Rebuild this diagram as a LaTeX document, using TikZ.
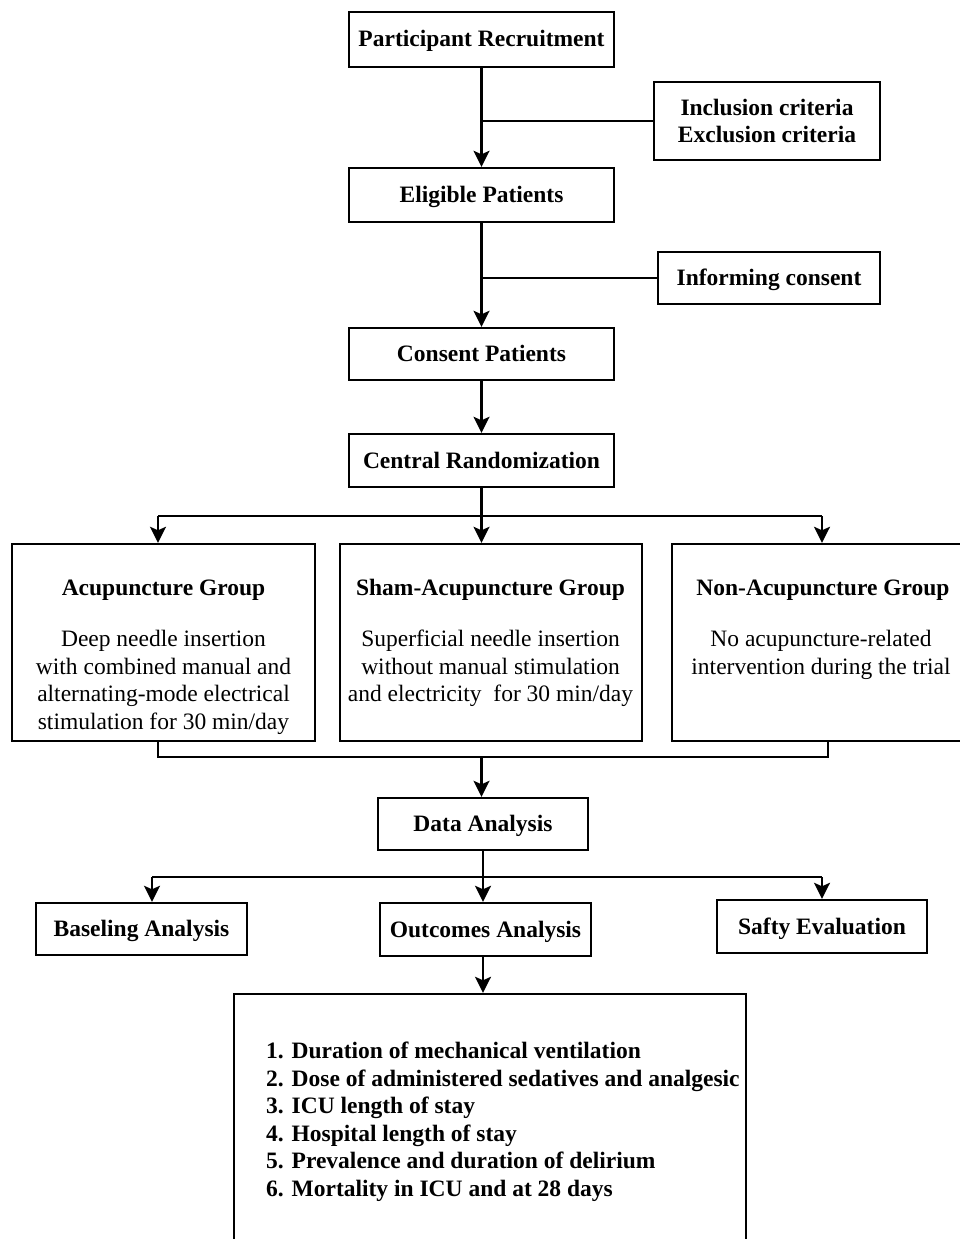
\documentclass[tikz,border=0pt]{standalone}
\usepackage{fontspec}
\setmainfont{Liberation Serif}
\usetikzlibrary{arrows.meta}
\newcommand\fsz{\fontsize{23.5}{27.5}\selectfont}
\begin{document}
\begin{tikzpicture}[x=1pt,y=-1pt,line width=2.4pt,
  box/.style={draw,rectangle,inner sep=0pt,font=\fsz\bfseries,align=center},
  one/.style={text height=16pt,text depth=1pt},
  gbox/.style={draw,rectangle,inner sep=0pt,minimum width=#1,minimum height=197pt},
  title/.style={font=\fsz\bfseries,inner sep=0pt,text height=16pt,text depth=1pt},
  body/.style={font=\fsz,inner sep=0pt,align=center,anchor=north},
  arr/.style={-{Stealth[length=16pt,width=16pt,inset=3.5pt]}}]
\useasboundingbox (0,0) rectangle (959,1239);
% top chain
\node[box,one,minimum width=265pt,minimum height=55pt] (pr) at (481.5,39.5) {Participant Recruitment};
\node[box,minimum width=226pt,minimum height=78pt] (incl) at (767,121) {Inclusion criteria\\Exclusion criteria};
\node[box,one,minimum width=265pt,minimum height=54pt] (el) at (481.5,195) {Eligible Patients};
\node[box,one,minimum width=222pt,minimum height=52pt] (inf) at (769,278) {Informing consent};
\node[box,one,minimum width=265pt,minimum height=52pt] (cp) at (481.5,354) {Consent Patients};
\node[box,one,minimum width=265pt,minimum height=53pt] (cr) at (481.5,460.5) {Central Randomization};
\draw[arr] (pr.south) -- (el.north);
\draw (incl.west) -- (incl.west -| pr.south);
\draw[arr] (el.south) -- (cp.north);
\draw (inf.west) -- (inf.west -| el.south);
\draw[arr] (cp.south) -- (cr.north);
% groups
\node[gbox=303pt] (acu) at (163.5,642.5) {};
\node[gbox=302pt] (sham) at (491,642.5) {};
\node[gbox=318pt] (non) at (831,642.5) {};
\node[title] (acut) at (163.5,588) {Acupuncture Group};
\node[body] (acub) at (163.5,629) {Deep needle insertion\\with combined manual and\\alternating-mode electrical\\stimulation for 30 min/day};
\node[title] (shamt) at (490.5,588) {Sham-Acupuncture Group};
\node[body] (shamb) at (490.5,629) {Superficial needle insertion\\without manual stimulation\\and electricity\ \ for 30 min/day};
\node[title] (nont) at (823,588) {Non-Acupuncture Group};
\node[body] (nonb) at (821,629) {No acupuncture-related\\intervention during the trial};
\coordinate (bl1) at (158,516);
\coordinate (br1) at (822,516);
\draw (cr.south) -- (cr.south |- bl1);
\draw (bl1) -- (br1);
\draw[arr] (bl1) -- (bl1 |- acu.north);
\draw[arr] (cr.south |- bl1) -- (cr.south |- sham.north);
\draw[arr] (br1) -- (br1 |- non.north);
% merge
\node[box,one,minimum width=210pt,minimum height=52pt] (da) at (483,824) {Data Analysis};
\coordinate (m1) at (158,757);
\coordinate (m2) at (828,757);
\draw (m1 |- acu.south) -- (m1) -- (m2) -- (m2 |- non.south);
\draw[arr] (m1 -| cr.south) -- (cr.south |- da.north);
% analysis
\node[box,one,minimum width=211pt,minimum height=52pt] (bl) at (141.5,929) {Baseling Analysis};
\node[box,one,minimum width=211pt,minimum height=53pt] (oa) at (485.5,929.5) {Outcomes Analysis};
\node[box,one,minimum width=210pt,minimum height=53pt] (se) at (822,926.5) {Safty Evaluation};
\coordinate (a1) at (152,877);
\coordinate (a2) at (822,877);
\draw (da.south) -- (da.south |- a1);
\draw (a1) -- (a2);
\draw[arr] (a1) -- (a1 |- bl.north);
\draw[arr] (da.south |- a1) -- (da.south |- oa.north);
\draw[arr] (a2) -- (a2 |- se.north);
% results
\node[draw,rectangle,inner sep=0pt,minimum width=512pt,minimum height=270pt] (res) at (490,1129) {};
\draw[arr] (oa.south -| da.south) -- (da.south |- res.north);
\node[font=\fsz\bfseries,inner sep=0pt,align=left,anchor=north west] (list) at (265,1041) {1. Duration of mechanical ventilation\\2. Dose of administered sedatives and analgesic\\3. ICU length of stay\\4. Hospital length of stay\\5. Prevalence and duration of delirium\\6. Mortality in ICU and at 28 days};
\end{tikzpicture}
\end{document}
